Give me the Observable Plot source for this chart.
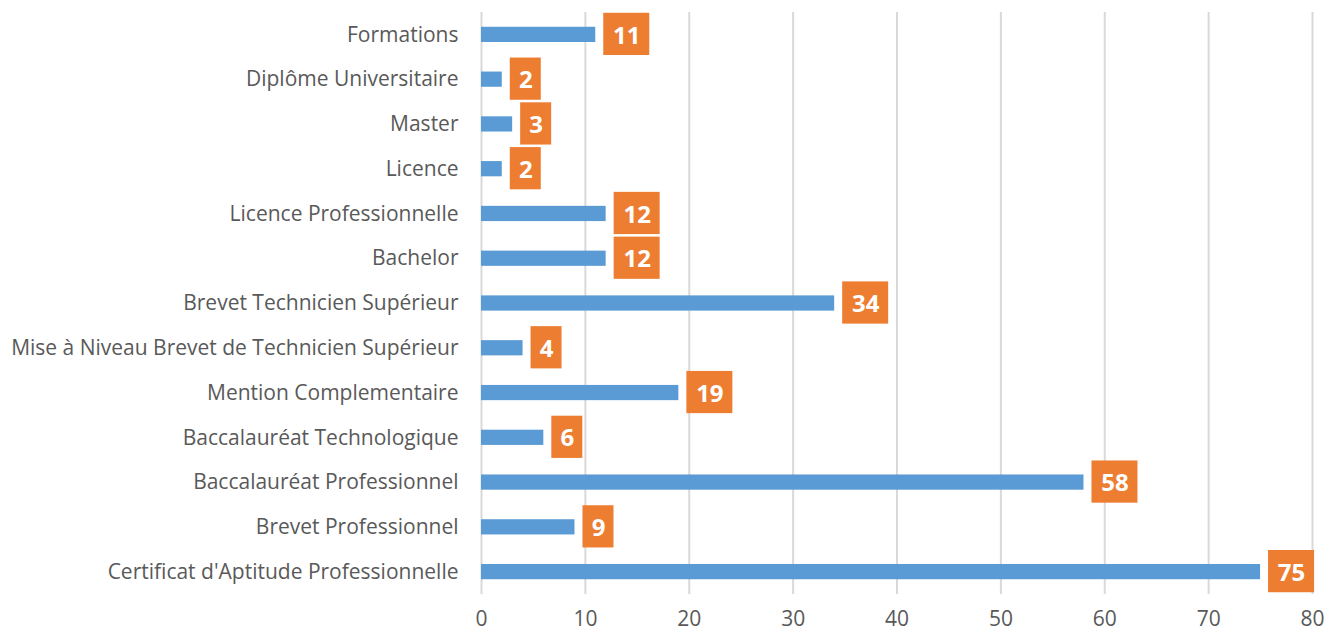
<!DOCTYPE html>
<html><head><meta charset="utf-8">
<script src="https://cdn.jsdelivr.net/npm/d3@7"></script>
<script src="https://cdn.jsdelivr.net/npm/@observablehq/plot@0.6"></script>
<style>body{margin:0;background:#fff}</style>
</head><body><div id="chart"></div>
<script>
const categories = ["Formations","Diplôme Universitaire","Master","Licence","Licence Professionnelle","Bachelor","Brevet Technicien Supérieur","Mise à Niveau Brevet de Technicien Supérieur","Mention Complementaire","Baccalauréat Technologique","Baccalauréat Professionnel","Brevet Professionnel","Certificat d'Aptitude Professionnelle"];
const values = [11,2,3,2,12,12,34,4,19,6,58,9,75];
const xTicks = [0,10,20,30,40,50,60,70,80];
const data = categories.map((c,i)=>({cat:c, value:values[i]}));
const one = data.filter(d=>String(d.value).length===1);
const two = data.filter(d=>String(d.value).length===2);
const W1 = 31, W2 = 46, GAP = 8;
const chart = Plot.plot({
  width:1325, height:634,
  marginLeft:481, marginRight:13, marginTop:12, marginBottom:40,
  style:{fontFamily:"'Open Sans', sans-serif", fontSize:"21px", color:"#595959", background:"#fff"},
  x:{domain:[0,80], ticks:xTicks, grid:false, label:null, tickSize:0, tickPadding:17},
  y:{domain:categories, paddingInner:0.66, paddingOuter:0.33, round:false, label:null, tickSize:0, tickPadding:23},
  marks:[
    Plot.ruleX(xTicks,{stroke:"#D9D9D9", strokeWidth:2, strokeOpacity:1}),
    Plot.barX(data,{x:"value", y:"cat", fill:"#5B9BD5"}),
    Plot.barX(one,{x1:"value", x2:"value", y:"cat", fill:"#ED7D31", dx:GAP, insetRight:-W1, insetTop:-14, insetBottom:-13}),
    Plot.barX(two,{x1:"value", x2:"value", y:"cat", fill:"#ED7D31", dx:GAP, insetRight:-W2, insetTop:-14, insetBottom:-13}),
    Plot.text(one,{x:"value", y:"cat", text:d=>String(d.value), dx:GAP+W1/2, dy:1, fill:"#fff", fontWeight:"bold", fontSize:24, textAnchor:"middle"}),
    Plot.text(two,{x:"value", y:"cat", text:d=>String(d.value), dx:GAP+W2/2, dy:1, fill:"#fff", fontWeight:"bold", fontSize:24, textAnchor:"middle"})
  ]
});
document.getElementById("chart").appendChild(chart);
</script></body></html>
